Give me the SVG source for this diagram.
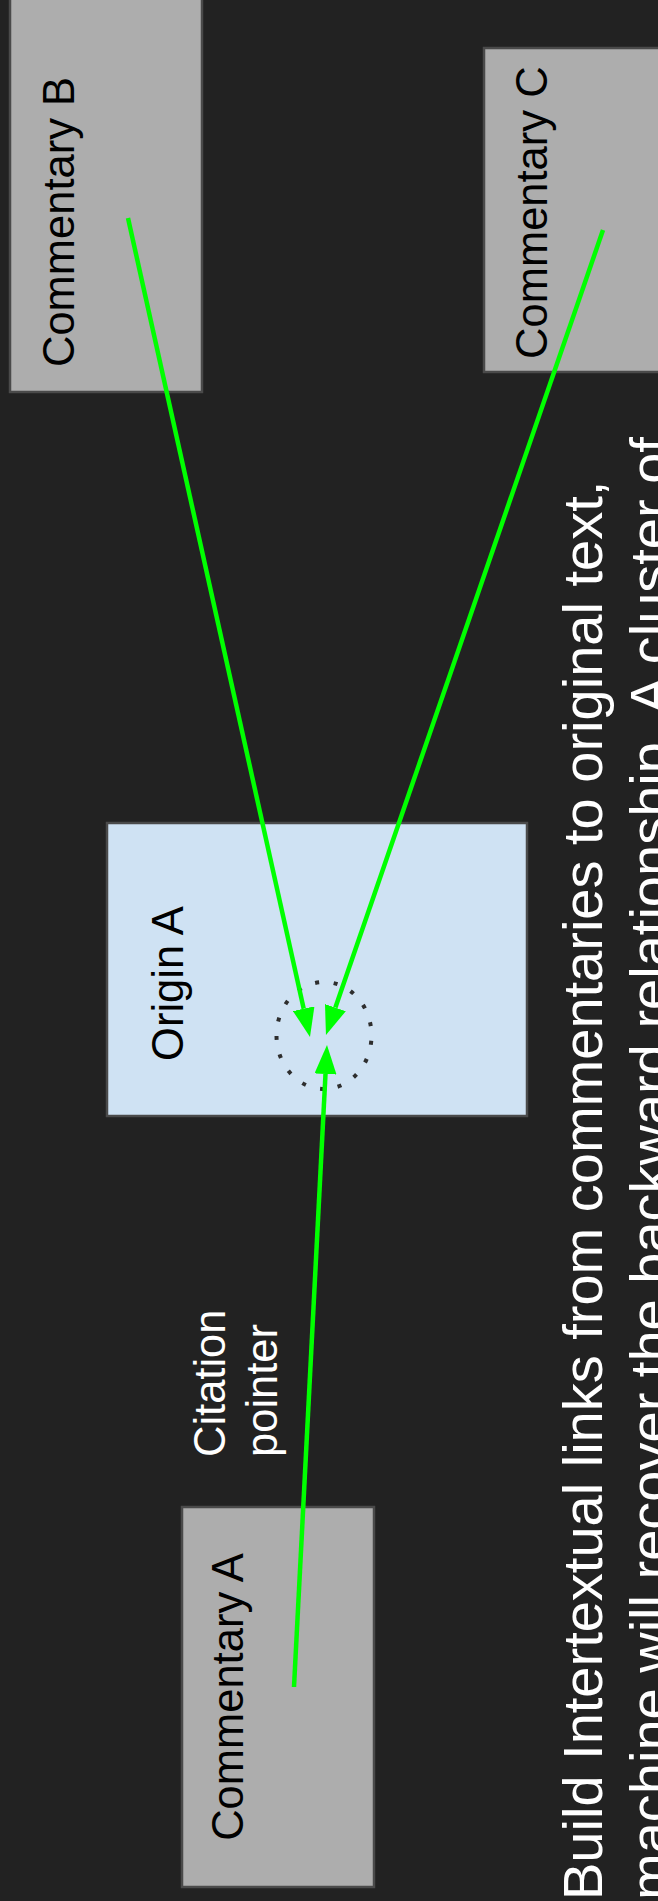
<svg xmlns="http://www.w3.org/2000/svg" width="658" height="1901" viewBox="0 0 658 1901">
  <style>
    .commentary { fill: #adadad; stroke: #4a4a4a; stroke-width: 2.5; }
    .origin { fill: #cfe2f3; stroke: #4a4a4a; stroke-width: 2.5; }
    .label { font-family: "Liberation Sans", Arial, sans-serif; font-size: 43.5px; fill: #000000; }
    .note { font-family: "Liberation Sans", Arial, sans-serif; font-size: 43.5px; fill: #ffffff; }
    .caption { font-family: "Liberation Sans", Arial, sans-serif; font-size: 56px; fill: #ffffff; }
    .link { fill: none; stroke: #00ff00; stroke-width: 4.5; marker-end: url(#arrow); }
    .anchor-ring { fill: none; stroke: #2e2e2e; stroke-width: 4; stroke-dasharray: 4 14.7; }
  </style>
  <defs>
    <marker id="arrow" viewBox="0 0 29 22" refX="0" refY="11" markerWidth="29" markerHeight="22" markerUnits="userSpaceOnUse" orient="auto">
      <path d="M0,0 L29,11 L0,22 Z" fill="#00ff00"/>
    </marker>
  </defs>

  <!-- background -->
  <rect x="0" y="0" width="658" height="1901" fill="#222222"/>

  <!-- nodes -->
  <g id="commentary-b">
    <rect class="commentary" x="10" y="-12" width="192" height="404"/>
    <text class="label" transform="translate(74,222) rotate(-90)" text-anchor="middle">Commentary B</text>
  </g>

  <g id="commentary-c">
    <rect class="commentary" x="484" y="48" width="192" height="324"/>
    <text class="label" transform="translate(547,212.7) rotate(-90)" text-anchor="middle">Commentary C</text>
  </g>

  <g id="origin-a">
    <rect class="origin" x="107" y="823" width="420" height="293"/>
    <text class="label" transform="translate(183,983.5) rotate(-90)" text-anchor="middle">Origin A</text>
    <path id="anchor" class="anchor-ring" d="M324,1089 A47.5,53.5 0 1,1 324,982 A47.5,53.5 0 1,1 324,1089 Z"/>
  </g>

  <g id="commentary-a">
    <rect class="commentary" x="182" y="1507" width="192" height="380"/>
    <text class="label" transform="translate(243,1697) rotate(-90)" text-anchor="middle">Commentary A</text>
  </g>

  <g id="citation-label">
    <text class="note" transform="translate(225,1457) rotate(-90)">Citation</text>
    <text class="note" transform="translate(277,1457) rotate(-90)">pointer</text>
  </g>

  <g id="caption">
    <text class="caption" transform="translate(602,1900) rotate(-90)">Build Intertextual links from commentaries to original text,</text>
    <text class="caption" transform="translate(669,1900) rotate(-90)">machine will recover the backward relationship. A cluster of</text>
  </g>

  <!-- connectors -->
  <g id="connectors">
    <line class="link" x1="128" y1="218" x2="303.7" y2="1008.7"/>
    <line class="link" x1="603" y1="230" x2="335.4" y2="1007.6"/>
    <line class="link" x1="294" y1="1687" x2="325.5" y2="1074"/>
  </g>
</svg>
